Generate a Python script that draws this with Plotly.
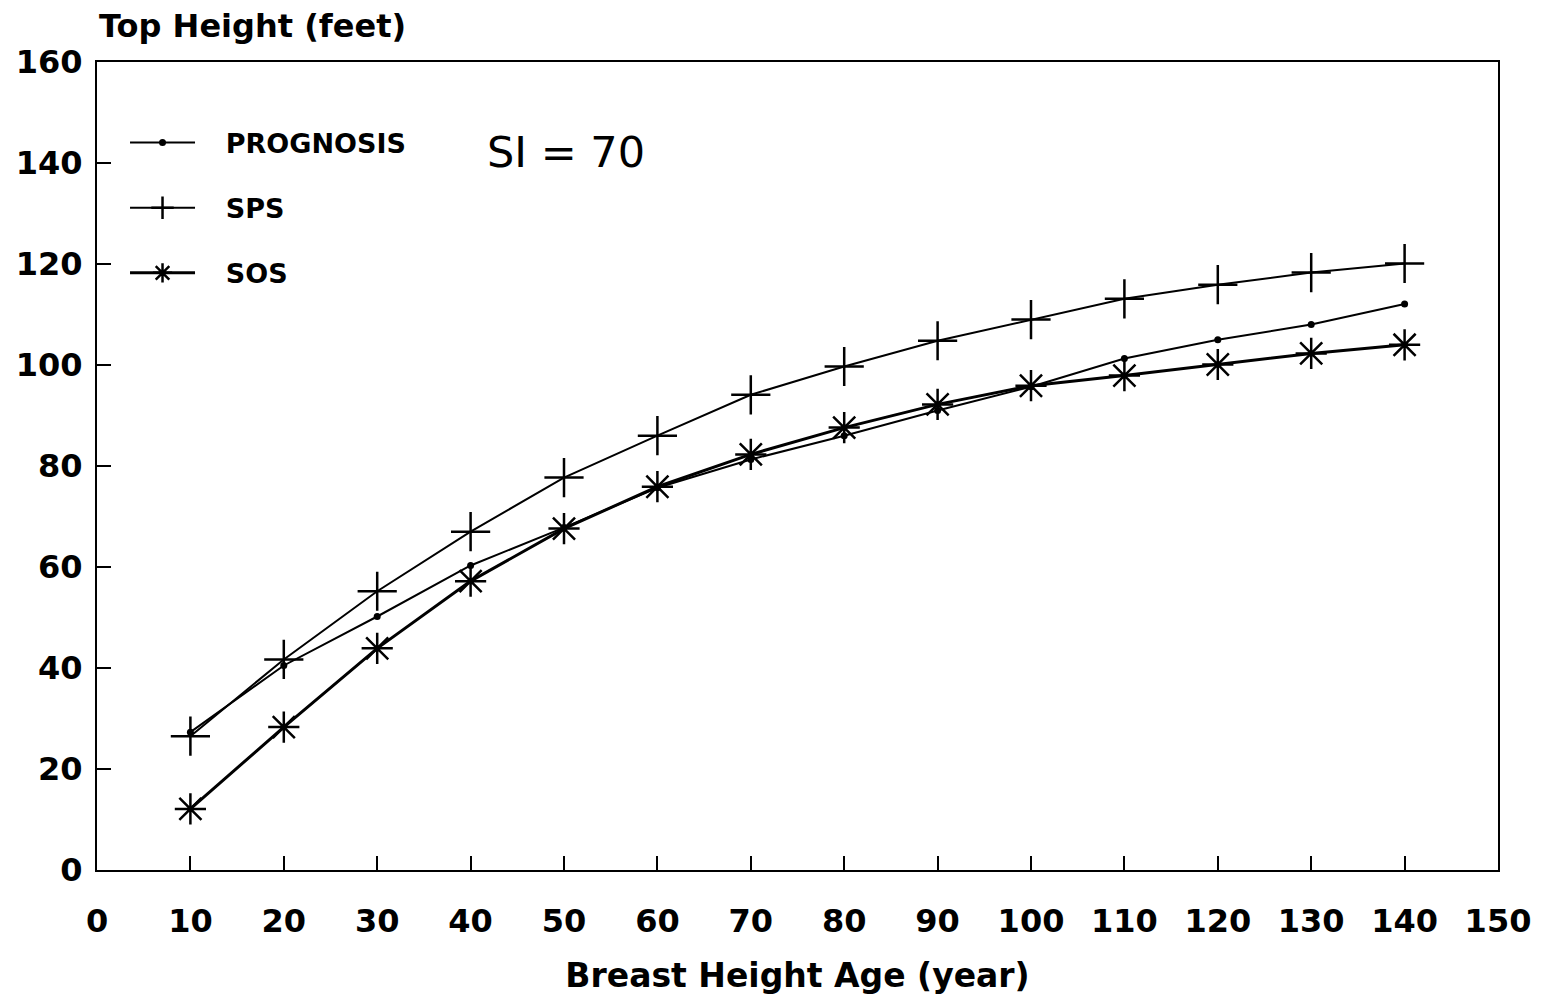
import plotly.graph_objects as go

age = [10, 20, 30, 40, 50, 60, 70, 80, 90, 100, 110, 120, 130, 140]
prognosis = [27.3, 40.5, 50.2, 60.3, 67.8, 75.7, 81.3, 86.0, 91.0, 95.7, 101.3, 105.0, 108.0, 112.1]
sps = [26.5, 41.7, 55.2, 67.0, 77.7, 86.0, 94.1, 99.7, 104.8, 109.0, 113.1, 115.9, 118.3, 120.1]
sos = [12.1, 28.3, 43.9, 57.2, 67.6, 75.9, 82.3, 87.6, 92.2, 95.9, 97.9, 100.1, 102.3, 104.0]

x_ticks = list(range(0, 151, 10))
y_ticks = list(range(0, 161, 20))

FONT = "DejaVu Sans"
PAD = "\u00a0\u00a0\u00a0"

fig = go.Figure()
fig.add_trace(go.Scatter(
    x=age, y=prognosis, name=PAD + "<b>PROGNOSIS</b>", mode="lines+markers",
    line=dict(color="black", width=2),
    marker=dict(symbol="circle", size=7, color="black"),
    legendgroup="a"))
fig.add_trace(go.Scatter(
    x=age, y=sps, name=PAD + "<b>SPS</b>", mode="lines+markers",
    line=dict(color="black", width=2),
    marker=dict(symbol="cross-thin", size=28, color="black",
                line=dict(color="black", width=2.5)),
    legendgroup="b"))
fig.add_trace(go.Scatter(
    x=age, y=sos, name=PAD + "<b>SOS</b>", mode="lines+markers",
    line=dict(color="black", width=3),
    marker=dict(symbol="asterisk", size=26, color="black",
                line=dict(color="black", width=2.5)),
    legendgroup="c"))

axis_common = dict(
    showline=True, linecolor="black", linewidth=2, mirror=True,
    ticks="inside", ticklen=14, tickwidth=2, tickcolor="black",
    showgrid=False, zeroline=False,
    tickfont=dict(family=FONT, size=32, color="black", weight="bold"),
)

fig.update_xaxes(range=[0, 150], tickvals=x_ticks, ticktext=[str(v) for v in x_ticks],
                 ticklabelstandoff=22,
                 title=dict(text="<b>Breast Height Age (year)</b>", standoff=24,
                            font=dict(family=FONT, size=33, color="black")),
                 **axis_common)
fig.update_yaxes(range=[0, 160], tickvals=y_ticks, ticktext=[str(v) for v in y_ticks],
                 ticklabelstandoff=6, **axis_common)

fig.add_annotation(text="<b>Top Height (feet)</b>", xref="paper", yref="paper",
                   x=0.0, y=1.0, yshift=15, xanchor="left", yanchor="bottom", showarrow=False,
                   font=dict(family=FONT, size=32, color="black"))
fig.add_annotation(text="SI = 70", xref="paper", yref="paper",
                   x=0.277, y=0.888, xanchor="left", yanchor="middle", showarrow=False,
                   font=dict(family=FONT, size=43, color="black"))

fig.update_layout(
    width=1543, height=1000,
    margin=dict(l=97, r=43, t=62, b=129),
    paper_bgcolor="white", plot_bgcolor="white",
    showlegend=True,
    legend=dict(x=0.02, y=0.93, xanchor="left", yanchor="top",
                bgcolor="rgba(0,0,0,0)", tracegroupgap=27,
                font=dict(family=FONT, size=27, color="black"),
                itemwidth=65),
)

fig.write_html("out.html")
